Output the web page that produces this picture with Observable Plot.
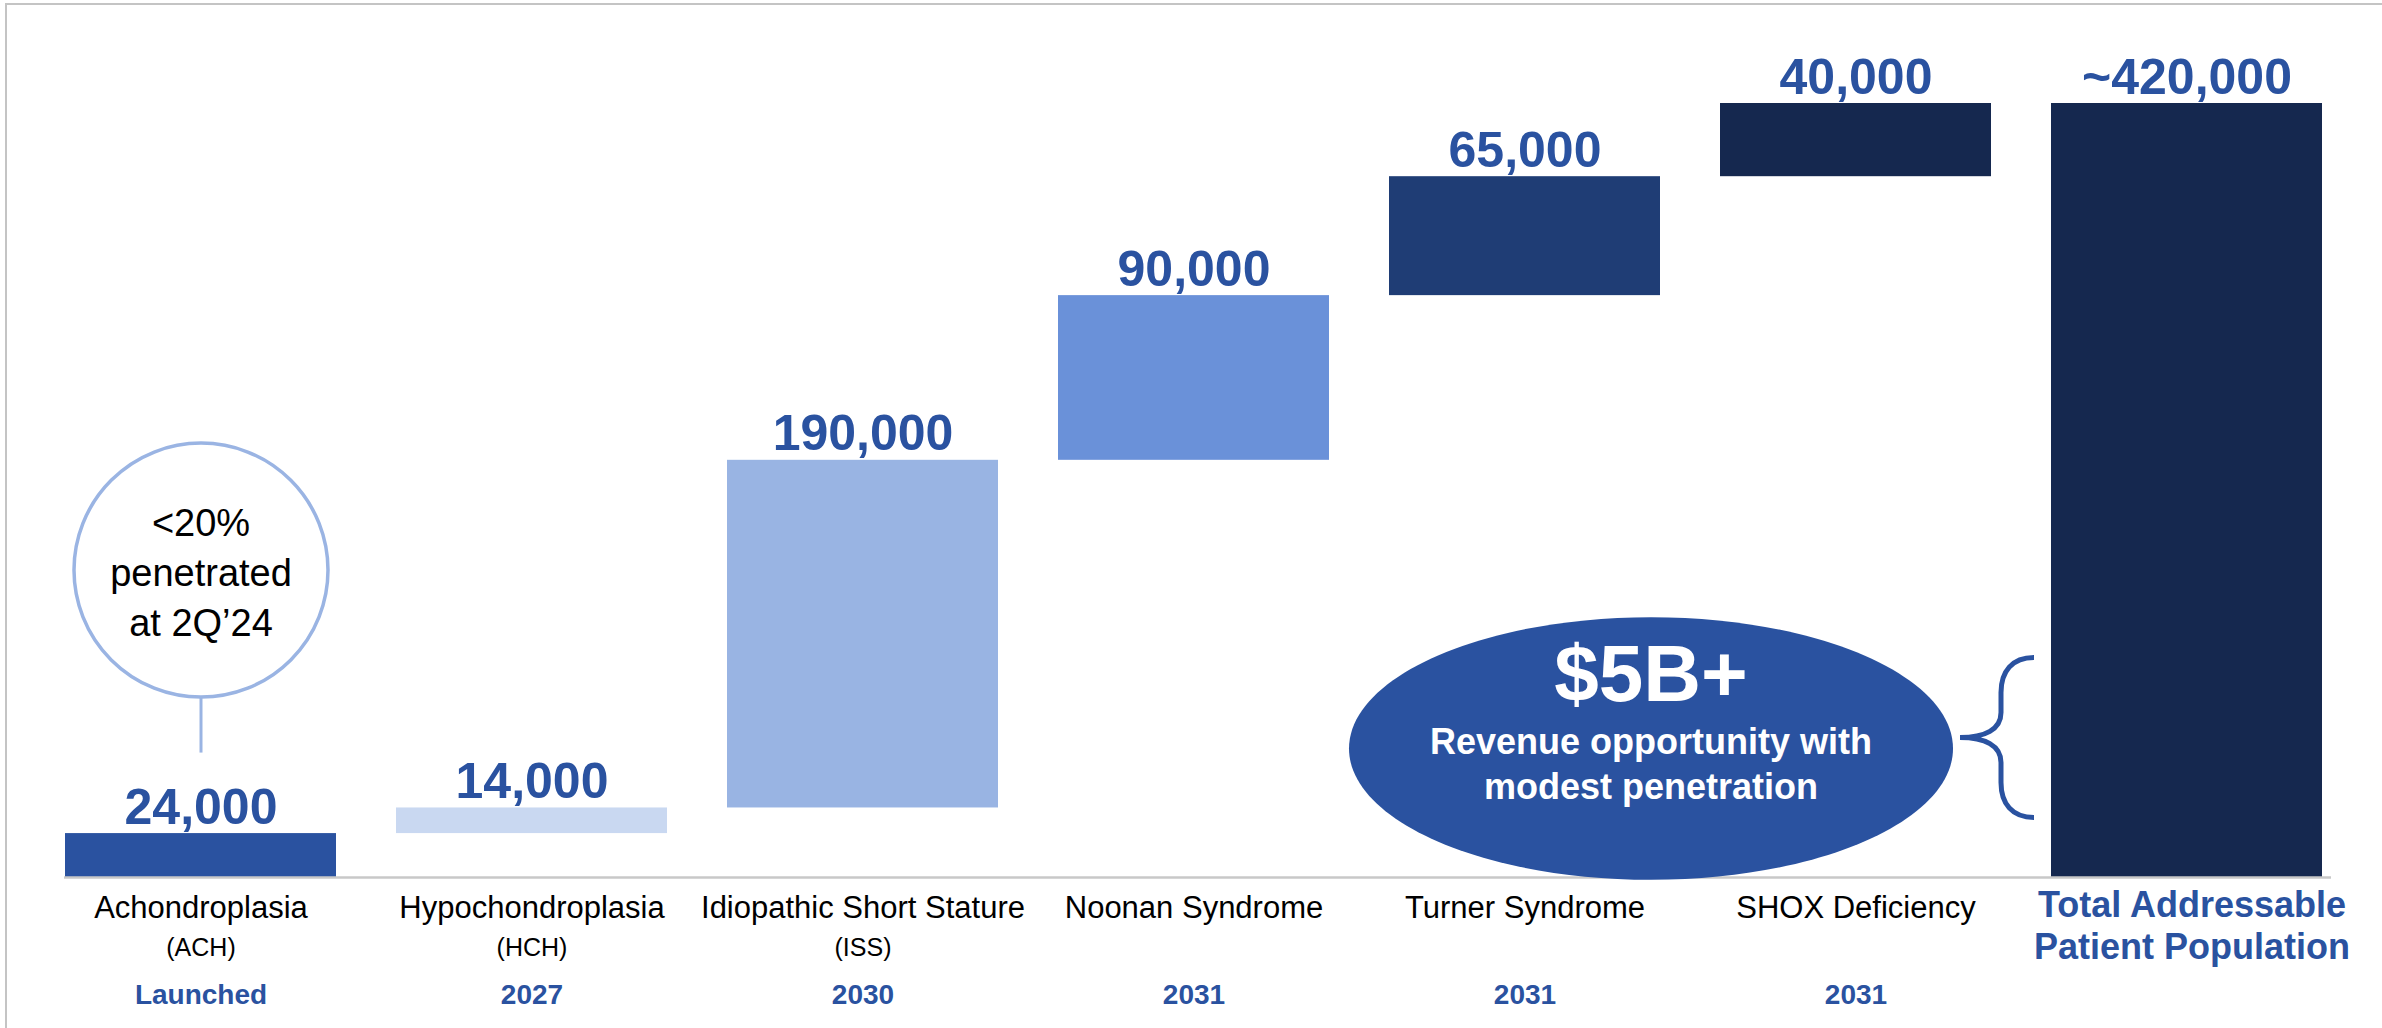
<!DOCTYPE html>
<html>
<head>
<meta charset="utf-8">
<script src="https://cdn.jsdelivr.net/npm/d3@7"></script>
<script src="https://cdn.jsdelivr.net/npm/@observablehq/plot@0.6"></script>
<style>
  html, body { margin: 0; padding: 0; background: #fff; }
  #wrap { position: relative; width: 2382px; height: 1028px; overflow: hidden; }
  #frame { position: absolute; left: 5px; top: 3px; right: 0; bottom: 0;
           border-top: 2px solid #c4c4c4; border-left: 2px solid #c4c4c4; pointer-events: none; }
  #chart svg { display: block; }
</style>
</head>
<body>
<div id="wrap"><div id="chart"></div><div id="frame"></div></div>
<script>
// ---- data ----
const categories = ["Achondroplasia", "Hypochondroplasia", "Idiopathic Short Stature", "Noonan Syndrome", "Turner Syndrome", "SHOX Deficiency", "Total Addressable Patient Population"];
const abbreviations = ["(ACH)", "(HCH)", "(ISS)", "", "", "", ""];
const launchYears = ["Launched", "2027", "2030", "2031", "2031", "2031", ""];
const patients = [24000, 14000, 190000, 90000, 65000, 40000];
const valueLabels = ["24,000", "14,000", "190,000", "90,000", "65,000", "40,000", "~420,000"];
const barColors = ["#2a52a0", "#c9d8f1", "#99b4e3", "#6a91d9", "#1f3d75", "#15284f", "#15284f"];
const totalLabel = "Total Addressable\nPatient Population";
const bubbleText = "<20%\npenetrated\nat 2Q\u201924";
const revenueHeadline = "$5B+";
const revenueText = "Revenue opportunity with\nmodest penetration";

// annotation anchors (data units)
const bubbleCenter = 168000;
const stemRange = [68000, 98000];
const ovalCenter = 70500;
const braceCenter = 76500;

// ---- derived table ----
let acc = 0;
const rows = patients.map((v, i) => {
  const r = {cat: categories[i], y1: acc, y2: acc + v, color: barColors[i], label: valueLabels[i]};
  acc += v;
  return r;
});
const total = acc;
rows.push({cat: categories[6], y1: 0, y2: total, color: barColors[6], label: valueLabels[6]});

const blue = "#2a52a0";
const font = "'Liberation Sans', Arial, Helvetica, sans-serif";

const ellipseSymbol = {
  draw(ctx, size) {
    const rx = Math.sqrt(size / Math.PI), ry = rx * 0.435, k = 0.5523;
    ctx.moveTo(-rx, 0);
    ctx.bezierCurveTo(-rx, -ry * k, -rx * k, -ry, 0, -ry);
    ctx.bezierCurveTo(rx * k, -ry, rx, -ry * k, rx, 0);
    ctx.bezierCurveTo(rx, ry * k, rx * k, ry, 0, ry);
    ctx.bezierCurveTo(-rx * k, ry, -rx, ry * k, -rx, 0);
    ctx.closePath();
  }
};
const braceSymbol = {
  draw(ctx) {
    ctx.moveTo(37, -80);
    ctx.bezierCurveTo(15, -80, 4, -66, 4, -45);
    ctx.lineTo(4, -25);
    ctx.bezierCurveTo(4, -8, -12, 0, -37, 0);
    ctx.bezierCurveTo(-12, 0, 4, 8, 4, 25);
    ctx.lineTo(4, 45);
    ctx.bezierCurveTo(4, 66, 15, 80, 37, 80);
  }
};

const chart = Plot.plot({
  width: 2382,
  height: 1028,
  marginLeft: 64,
  marginRight: 59,
  marginTop: 103,
  marginBottom: 151,
  style: {fontFamily: font, background: "transparent", overflow: "visible"},
  x: {domain: categories, paddingInner: 0.181, paddingOuter: 0, axis: null},
  y: {domain: [0, total], axis: null},
  color: {type: "identity"},
  marks: [
    Plot.barY(rows, {x: "cat", y1: "y1", y2: "y2", fill: "color"}),
    Plot.ruleY([0], {stroke: "#c8c8c8", strokeWidth: 2.5, insetRight: -8}),
    // value labels
    Plot.text(rows, {x: "cat", y: "y2", text: "label", dy: -10, lineAnchor: "bottom",
      fontSize: 50, fontWeight: "bold", fill: blue}),
    // category labels
    Plot.text(categories.slice(0, 6), {x: d => d, y: () => 0, text: d => d, dy: 40, lineAnchor: "bottom",
      fontSize: 31, fill: "#000"}),
    Plot.text(categories.slice(0, 6), {x: d => d, y: () => 0, text: (d, i) => abbreviations[i], dy: 78, lineAnchor: "bottom",
      fontSize: 25, fill: "#000"}),
    Plot.text(categories.slice(0, 6), {x: d => d, y: () => 0, text: (d, i) => launchYears[i], dy: 126, lineAnchor: "bottom",
      fontSize: 28, fontWeight: "bold", fill: blue}),
    Plot.text([categories[6]], {x: d => d, y: () => 0, text: () => totalLabel, dx: 5, dy: 81, lineAnchor: "bottom",
      lineHeight: 1.14, fontSize: 36, fontWeight: "bold", fill: blue}),
    // penetration bubble
    Plot.ruleX([categories[0]], {y1: stemRange[0], y2: stemRange[1], stroke: "#9ab4e3", strokeWidth: 3}),
    Plot.dot([categories[0]], {x: d => d, y: () => bubbleCenter, r: 127, fill: "white", stroke: "#9ab4e3", strokeWidth: 3.5}),
    Plot.text([categories[0]], {x: d => d, y: () => bubbleCenter, text: () => bubbleText, lineAnchor: "middle",
      lineHeight: 1.32, fontSize: 38, fill: "#000"}),
    // revenue oval
    Plot.dot([categories[5]], {x: d => d, y: () => ovalCenter, dx: -205, r: 302, symbol: ellipseSymbol, fill: blue, stroke: "none"}),
    Plot.text([categories[5]], {x: d => d, y: () => ovalCenter, dx: -205, dy: -48, text: () => revenueHeadline, lineAnchor: "bottom",
      fontSize: 80, fontWeight: "bold", fill: "white"}),
    Plot.text([categories[5]], {x: d => d, y: () => ovalCenter, dx: -205, dy: 50, text: () => revenueText, lineAnchor: "bottom",
      lineHeight: 1.25, fontSize: 36, fontWeight: "bold", fill: "white"}),
    // brace
    Plot.dot([categories[6]], {x: d => d, y: () => braceCenter, dx: -190, r: 10, symbol: braceSymbol, fill: "none", stroke: blue, strokeWidth: 5})
  ]
});
document.getElementById("chart").appendChild(chart);
</script>
</body>
</html>
